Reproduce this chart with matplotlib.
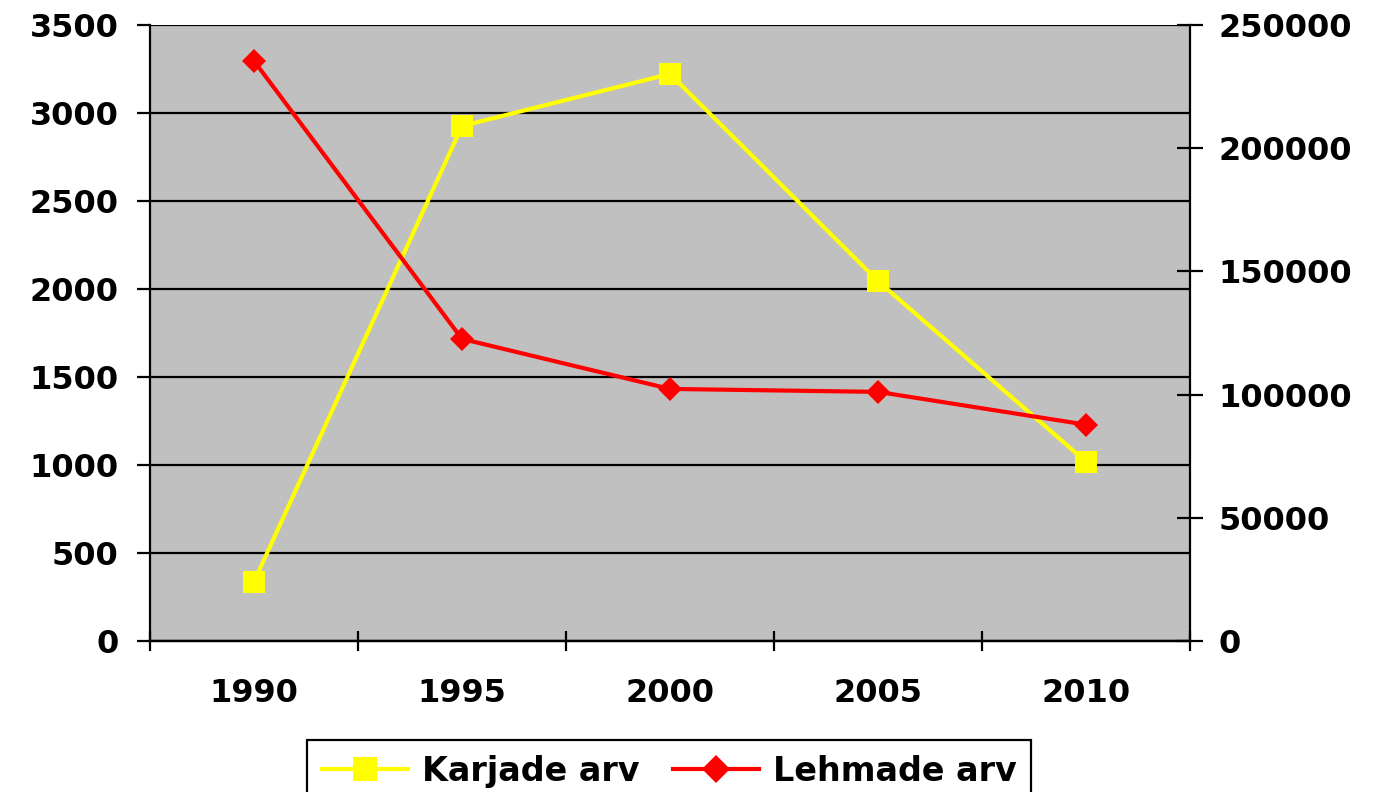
import matplotlib
matplotlib.use("Agg")
import matplotlib.pyplot as plt
from matplotlib.ticker import FixedLocator, NullFormatter, FixedFormatter

years = ["1990", "1995", "2000", "2005", "2010"]
karjade_arv = [337, 2926, 3222, 2045, 1019]
lehmade_arv = [235400, 122600, 102300, 101100, 87800]
left_ticks = [0, 500, 1000, 1500, 2000, 2500, 3000, 3500]
right_ticks = [0, 50000, 100000, 150000, 200000, 250000]

plt.rcParams['font.family'] = ['DejaVu Sans']
plt.rcParams['font.weight'] = 'bold'
FS = 23
LFS = 24

fig = plt.figure(figsize=(13.88, 7.92), dpi=100)
ax = fig.add_axes([150/1388, 1-641/792, (1190-150)/1388, (641-25)/792])
ax2 = ax.twinx()

ax.set_facecolor('#C0C0C0')
x = list(range(len(years)))

l1, = ax.plot(x, karjade_arv, color='#FFFF00', lw=3, marker='s', ms=15.5,
              markeredgewidth=0, label='Karjade arv', zorder=3)
l2, = ax2.plot(x, lehmade_arv, color='#FF0000', lw=3, marker='D', ms=12.5,
               markeredgewidth=0, label='Lehmade arv', zorder=3)

ax.set_xlim(-0.5, len(years) - 0.5)
ax.set_ylim(0, 3500)
ax2.set_ylim(0, 250000)

ax.set_yticks(left_ticks)
ax.set_yticklabels([str(t) for t in left_ticks], fontsize=FS, fontweight='bold')
ax2.set_yticks(right_ticks)
ax2.set_yticklabels([str(t) for t in right_ticks], fontsize=FS, fontweight='bold')

ax.xaxis.set_major_locator(FixedLocator([i - 0.5 for i in range(len(years) + 1)]))
ax.xaxis.set_major_formatter(NullFormatter())
ax.xaxis.set_minor_locator(FixedLocator(x))
ax.xaxis.set_minor_formatter(FixedFormatter(years))
ax.tick_params(axis='x', which='major', direction='inout', length=15, width=1.6, color='black')
ax.tick_params(axis='x', which='minor', length=0, pad=27, labelsize=FS)
for t in ax.xaxis.get_minorticklabels():
    t.set_fontweight('bold')

ax.tick_params(axis='y', direction='out', length=9.5, width=1.6, pad=13, labelsize=FS)
ax2.tick_params(axis='y', direction='inout', length=19, width=1.6, pad=11, labelsize=FS)

ax.yaxis.grid(True, color='black', lw=1.6)
ax.set_axisbelow(True)

for a in (ax, ax2):
    for s in a.spines.values():
        s.set_linewidth(1.6)
        s.set_color('black')
    a.spines['top'].set_visible(False)
ax2.spines['left'].set_visible(False)
ax.spines['right'].set_visible(False)

leg = fig.legend(handles=[l1, l2], loc='upper center',
                 bbox_to_anchor=(669/1388, 1-740/792), ncol=2,
                 prop={'size': LFS, 'weight': 'bold'}, frameon=True,
                 fancybox=False, edgecolor='black', framealpha=1,
                 handlelength=2.6, handletextpad=0.4, columnspacing=1.0,
                 borderpad=0.45, borderaxespad=0, markerscale=1.1)
leg.get_frame().set_linewidth(1.6)

fig.savefig('out.png', dpi=100)
